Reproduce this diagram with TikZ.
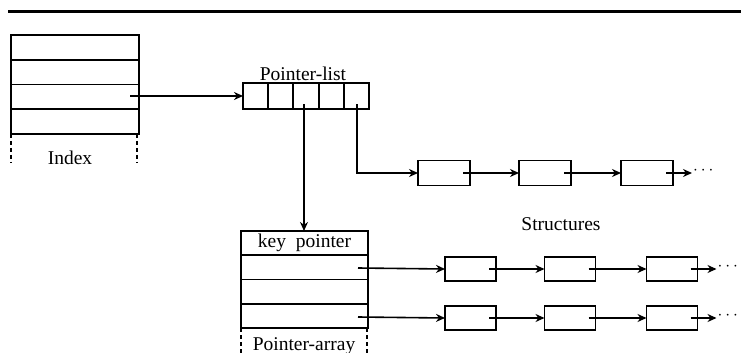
\documentclass[tikz,border=0pt]{standalone}
\usepackage{fontspec}
\setmainfont{Liberation Serif}
\usetikzlibrary{arrows.meta,calc}
\tikzset{
  cell/.style={draw, line width=1.9pt, inner sep=0pt, outer sep=0pt},
  ln/.style={line width=1.6pt},
  arr/.style={ln, -{Stealth[length=9pt,width=8pt]}},
  dsh/.style={line width=1.6pt, dash pattern=on 4pt off 3pt},
  lbl/.style={font=\fontsize{19.5}{21}\selectfont, inner sep=0pt},
  dots/.style={font=\fontsize{16}{18}\selectfont, inner sep=0pt, anchor=west}
}
\begin{document}
\begin{tikzpicture}[x=1pt,y=-1pt]
\useasboundingbox (0,0) rectangle (741,353);
\clip (0,0) rectangle (741,353);
% top rule
\draw[line width=3pt] (8,12) -- (741,12);
% Index
\foreach \i/\y in {1/47.4,2/72.1,3/96.9,4/121.6}{
  \node[cell, minimum width=128pt, minimum height=24.75pt] (i\i) at (75,\y) {};
}
\draw[dsh] (i4.south west) -- ++(0,29);
\draw[dsh] ($(i4.south east)+(-2,0)$) -- ++(0,29);
\node[lbl] (ilbl) at (70,158) {Index};
% Pointer-list
\foreach \i/\x in {1/255.6,2/280.8,3/306,4/331.2,5/356.4}{
  \node[cell, minimum width=25.2pt, minimum height=26pt] (p\i) at (\x,96) {};
}
\node[lbl, anchor=base] (plbl) at (303,80) {Pointer-list};
% Pointer-array
\node[cell, minimum width=127pt, minimum height=24.25pt, lbl] (a0) at (304.5,243.1) {key\ \ pointer};
\foreach \i/\y in {1/267.4,2/291.6,3/315.9}{
  \node[cell, minimum width=127pt, minimum height=24.25pt] (a\i) at (304.5,\y) {};
}
\draw[dsh] (a3.south west) -- ++(0,26);
\draw[dsh] ($(a3.south east)+(-1,0)$) -- ++(0,26);
\node[lbl, anchor=base] (albl) at (304,350) {Pointer-array};
% Structures row 1
\foreach \i/\x in {1/444,2/545,3/647}{
  \node[cell, minimum width=52pt, minimum height=25pt] (s1\i) at (\x,173) {};
}
% rows 2,3
\foreach \r/\y in {2/269,3/318}{
  \foreach \i/\x in {1/470.5,2/570,3/672}{
    \node[cell, minimum width=51pt, minimum height=24.5pt] (s\r\i) at (\x,\y) {};
  }
}
\node[lbl] (slbl) at (561,224) {Structures};
% connectors
\coordinate (ist) at (130,96);
\draw[arr] (ist) -- (p1.west);
\coordinate (p3s) at (304,104);
\draw[arr] (p3s) -- (a0.north -| p3s);
\coordinate (p5s) at (357,104);
\draw[arr] (p5s) |- (s11.west);
\coordinate (a1s) at (358,268);
\draw[arr] (a1s) -- (s21.west);
\coordinate (a3s) at (358,317);
\draw[arr] (a3s) -- (s31.west);
\foreach \r in {1,2,3}{
  \draw[arr] ($(s\r1.east)+(-7,0)$) -- (s\r2.west);
  \draw[arr] ($(s\r2.east)+(-7,0)$) -- (s\r3.west);
  \coordinate (t\r) at ($(s\r3.east)+(19,0)$);
  \draw[arr] ($(s\r3.east)+(-7,0)$) -- (t\r);
  \node[dots] (d\r) at ($(t\r)+(1,-2)$) {$\cdots$};
}
\end{tikzpicture}
\end{document}
